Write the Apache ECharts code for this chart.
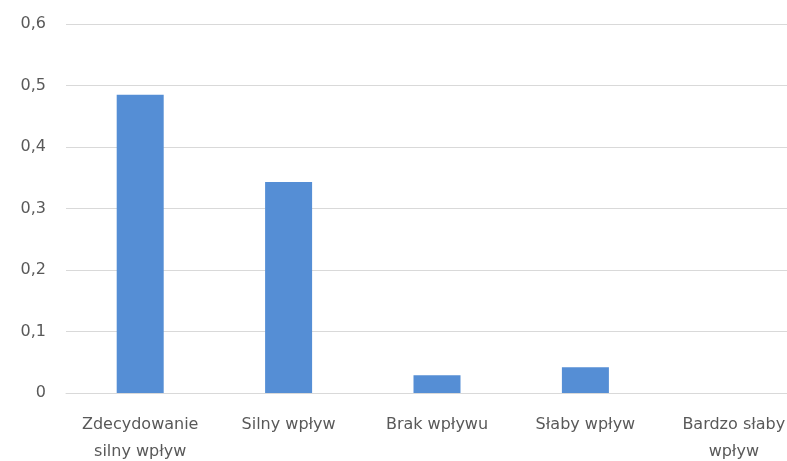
<!DOCTYPE html>
<html>
<head>
<meta charset="utf-8">
<script src="https://cdn.jsdelivr.net/npm/echarts@6/dist/echarts.min.js"></script>
<style>
  html, body { margin: 0; padding: 0; background: #fff; }
  #chart { width: 787px; height: 461px; }
</style>
</head>
<body>
<div id="chart"></div>
<script>
const categories = ['Zdecydowanie\nsilny wpływ', 'Silny wpływ', 'Brak wpływu', 'Słaby wpływ', 'Bardzo słaby\nwpływ'];
const values = [0.485, 0.343, 0.029, 0.042, 0];
const yTicks = [0, 0.1, 0.2, 0.3, 0.4, 0.5, 0.6];

const chart = echarts.init(document.getElementById('chart'));
chart.setOption({
  backgroundColor: '#fff',
  animation: false,
  grid: { left: 66, top: 24, width: 742, height: 369, containLabel: false, outerBoundsMode: 'none' },
  xAxis: {
    type: 'category',
    data: categories,
    axisTick: { show: false },
    axisLine: { lineStyle: { color: '#d9d9d9', width: 1 } },
    axisLabel: {
      color: '#595959', fontSize: 16, fontFamily: 'DejaVu Sans', margin: 18,
      lineHeight: 27, interval: 0
    }
  },
  yAxis: {
    type: 'value',
    min: yTicks[0],
    max: yTicks[yTicks.length - 1],
    interval: 0.1,
    axisLine: { show: false },
    axisTick: { show: false },
    axisLabel: {
      color: '#595959', fontSize: 16, fontFamily: 'DejaVu Sans', margin: 20,
      formatter: v => (Math.round(v * 10) / 10).toString().replace('.', ',')
    },
    splitLine: { lineStyle: { color: '#d9d9d9', width: 1 } }
  },
  series: [{
    type: 'bar',
    data: values,
    barWidth: 47,
    itemStyle: { color: '#558ed5' }
  }]
});
</script>
</body>
</html>
